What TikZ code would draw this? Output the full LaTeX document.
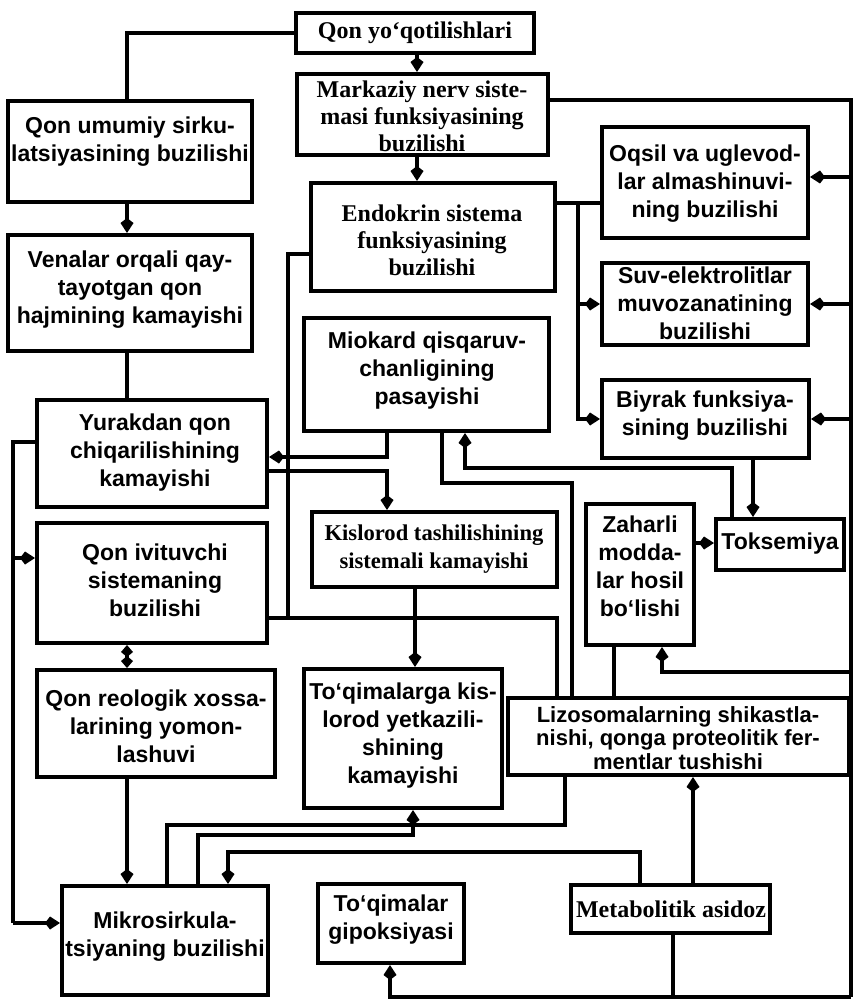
\documentclass[tikz,border=0pt]{standalone}
\usepackage{fontspec}
\setmainfont{Liberation Sans}
\newfontfamily\serifface{Liberation Serif}
\usetikzlibrary{arrows.meta,fit,calc}
\begin{document}
\begin{tikzpicture}[x=0.5pt,y=-0.5pt,
  box/.style={draw, line width=2pt, inner sep=0pt},
  txt/.style={align=center, inner sep=0pt, font=\bfseries\fontsize{11.5}{14}\selectfont},
  stxt/.style={align=center, inner sep=0pt, font=\serifface\bfseries\fontsize{12}{13.5}\selectfont},
  sstxt/.style={align=center, inner sep=0pt, font=\serifface\bfseries\fontsize{11.3}{14}\selectfont},
  smalltxt/.style={align=center, inner sep=0pt, font=\bfseries\fontsize{11}{11.6}\selectfont},
  link/.style={line width=1.7pt},
  arr/.style={link, -{Kite[length=7.5pt,width=6.5pt,inset=2.5pt]}},
  darr/.style={link, {Kite[length=6pt,width=6pt,inset=2.5pt]}-{Kite[length=6pt,width=6pt,inset=2.5pt]}},
]
\useasboundingbox (0,0) rectangle (854,1000);

% ---- boxes ----
\node[box, fit={(296,13)(534,53)}]   (qy)  {};
\node[box, fit={(297,74)(548,155)}]  (mk)  {};
\node[box, fit={(8,101)(252,202)}]   (qu)  {};
\node[box, fit={(8,235)(252,351)}]   (ve)  {};
\node[box, fit={(311,183)(555,291)}] (en)  {};
\node[box, fit={(602,127)(808,238)}] (oq)  {};
\node[box, fit={(602,263)(808,345)}] (su)  {};
\node[box, fit={(602,380)(809,458)}] (bi)  {};
\node[box, fit={(304,318)(549,431)}] (mio) {};
\node[box, fit={(37,400)(267,507)}]  (yu)  {};
\node[box, fit={(37,523)(267,643)}]  (iv)  {};
\node[box, fit={(37,670)(275,777)}]  (re)  {};
\node[box, fit={(312,512)(557,587)}] (ki)  {};
\node[box, fit={(586,504)(694,645)}] (za)  {};
\node[box, fit={(716,519)(844,570)}] (to)  {};
\node[box, fit={(304,669)(502,808)}] (tk)  {};
\node[box, fit={(508,698)(849,775)}] (li)  {};
\node[box, fit={(571,885)(770,933)}] (me)  {};
\node[box, fit={(318,884)(464,963)}] (tg)  {};
\node[box, fit={(62,886)(268,995)}]  (mi)  {};

% ---- texts ----
\node[stxt] (qy-t)  at (415,33)  {Qon yo‘qotilishlari};
\node[stxt] (mk-t)  at (422,116) {Markaziy nerv siste-\\masi funksiyasining\\buzilishi};
\node[txt]  (qu-t)  at (130,142) {Qon umumiy sirku-\\latsiyasining buzilishi};
\node[txt]  (ve-t)  at (130,290) {Venalar orqali qay-\\tayotgan qon\\hajmining kamayishi};
\node[stxt] (en-t)  at (432,240) {Endokrin sistema\\funksiyasining\\buzilishi};
\node[txt]  (oq-t)  at (705,184) {Oqsil va uglevod-\\lar almashinuvi-\\ning buzilishi};
\node[txt]  (su-t)  at (705,303) {Suv-elektrolitlar\\muvozanatining\\buzilishi};
\node[txt]  (bi-t)  at (705,416) {Biyrak funksiya-\\sining buzilishi};
\node[txt]  (mio-t) at (427,371) {Miokard qisqaruv-\\chanligining\\pasayishi};
\node[txt]  (yu-t)  at (155,453) {Yurakdan qon\\chiqarilishining\\kamayishi};
\node[txt]  (iv-t)  at (155,580) {Qon ivituvchi\\sistemaning\\buzilishi};
\node[txt]  (re-t)  at (156,726) {Qon reologik xossa-\\larining yomon-\\lashuvi};
\node[sstxt] (ki-t) at (434,549) {Kislorod tashilishining\\sistemali kamayishi};
\node[txt]  (za-t)  at (640,566) {Zaharli\\modda-\\lar hosil\\bo‘lishi};
\node[txt]  (to-t)  at (780,544) {Toksemiya};
\node[txt]  (tk-t)  at (403,736) {To‘qimalarga kis-\\lorod yetkazili-\\shining\\kamayishi};
\node[smalltxt] (li-t) at (678,738) {Lizosomalarning shikastla-\\nishi, qonga proteolitik fer-\\mentlar tushishi};
\node[stxt] (me-t)  at (671,909) {Metabolitik asidoz};
\node[txt]  (tg-t)  at (391,920) {To‘qimalar\\gipoksiyasi};
\node[txt]  (mi-t)  at (165,937) {Mikrosirkula-\\tsiyaning buzilishi};

% ---- routing lines ----
\coordinate (vA)   at (127,0);
\coordinate (vB)   at (417,0);
\coordinate (vR)   at (851,0);
\coordinate (vL)   at (13,0);
\coordinate (vEn)  at (578,0);
\coordinate (vEnL) at (288,0);
\coordinate (vLi1) at (557,0);
\coordinate (vLi2) at (572,0);
\coordinate (vMo1) at (387,0);
\coordinate (vMo2) at (442,0);
\coordinate (vMo3) at (465,0);
\coordinate (vTo)  at (732,0);
\coordinate (vBi)  at (753,0);
\coordinate (vZa)  at (662,0);
\coordinate (vZa2) at (614,0);
\coordinate (vKi)  at (415,0);
\coordinate (vLs)  at (565,0);
\coordinate (vM1)  at (167,0);
\coordinate (vM2)  at (198,0);
\coordinate (vM3)  at (228,0);
\coordinate (vTk)  at (413,0);
\coordinate (vMe)  at (673,0);
\coordinate (vMe2) at (640,0);
\coordinate (vMe3) at (693,0);
\coordinate (vTg)  at (390,0);
\coordinate (hMk)  at (0,100);
\coordinate (hOq)  at (0,177);
\coordinate (hEn)  at (0,203);
\coordinate (hEnL) at (0,254);
\coordinate (hYuL) at (0,442);
\coordinate (hYu1) at (0,457);
\coordinate (hTo)  at (0,468);
\coordinate (hYu2) at (0,471);
\coordinate (hMo2) at (0,483);
\coordinate (hZt)  at (0,543);
\coordinate (hIvL) at (0,558);
\coordinate (hIv)  at (0,618);
\coordinate (hZa)  at (0,672);
\coordinate (hL1)  at (0,825);
\coordinate (hL2)  at (0,835);
\coordinate (hL3)  at (0,852);
\coordinate (hMi)  at (0,923);
\coordinate (hBot) at (0,997);

% ---- connectors ----
% main chain
\draw[link] (qy.west) -| (qu.north -| vA);
\draw[arr]  (qy.south -| vB) -- (mk.north -| vB);
\draw[arr]  (mk.south -| vB) -- (en.north -| vB);
\draw[arr]  (qu.south -| vA) -- (ve.north -| vA);
\draw[link] (ve.south -| vA) -- (yu.north -| vA);
\draw[darr] (iv.south -| vA) -- (re.north -| vA);
\draw[arr]  (re.south -| vA) -- (mi.north -| vA);

% right trunk
\draw[link] (mk.east |- hMk) -| (vR |- hBot);
\draw[arr]  (vR |- hOq) -- (oq.east |- hOq);
\draw[arr]  (vR |- su.east) -- (su.east);
\draw[arr]  (vR |- bi.east) -- (bi.east);
\draw[arr]  (vR |- hZa) -| (za.south -| vZa);

% endocrine branches
\draw[link] (en.east |- hEn) -- (oq.west |- hEn);
\draw[arr]  (vEn |- hEn) |- (su.west);
\draw[arr]  (vEn |- hEn) |- (bi.west);
\draw[link] (en.west |- hEnL) -| (vEnL |- hIv);
\draw[link] (iv.east |- hIv) -| (li.north -| vLi1);

% myocardium and cardiac output
\draw[arr]  (mio.south -| vMo1) |- (yu.east |- hYu1);
\draw[arr]  (yu.east |- hYu2) -| (ki.north -| vMo1);
\draw[link] (mio.south -| vMo2) |- (vLi2 |- hMo2) -- (li.north -| vLi2);
\draw[arr]  (to.north -| vTo) |- (vMo3 |- hTo) -- (mio.south -| vMo3);

% toxaemia
\draw[arr]  (bi.south -| vBi) -- (to.north -| vBi);
\draw[arr]  (za.east |- hZt) -- (to.west |- hZt);
\draw[link] (za.south -| vZa2) -- (li.north -| vZa2);

% oxygen transport
\draw[arr]  (ki.south -| vKi) -- (tk.north -| vKi);

% left trunk
\draw[link] (yu.west |- hYuL) -| (vL |- hMi);
\draw[arr]  (vL |- hMi) -- (mi.west |- hMi);
\draw[arr]  (vL |- hIvL) -- (iv.west |- hIvL);

% lower part
\draw[link] (li.south -| vLs) |- (vM1 |- hL1) -- (mi.north -| vM1);
\draw[arr]  (mi.north -| vM2) |- (vTk |- hL2) -- (tk.south -| vTk);
\draw[arr]  (me.north -| vMe2) |- (vM3 |- hL3) -- (mi.north -| vM3);
\draw[arr]  (me.north -| vMe3) -- (li.south -| vMe3);
\draw[arr]  (me.south -| vMe) -- (vMe |- hBot) -| (tg.south -| vTg);
\draw[link] (vMe |- hBot) -- (vR |- hBot);
\end{tikzpicture}
\end{document}
